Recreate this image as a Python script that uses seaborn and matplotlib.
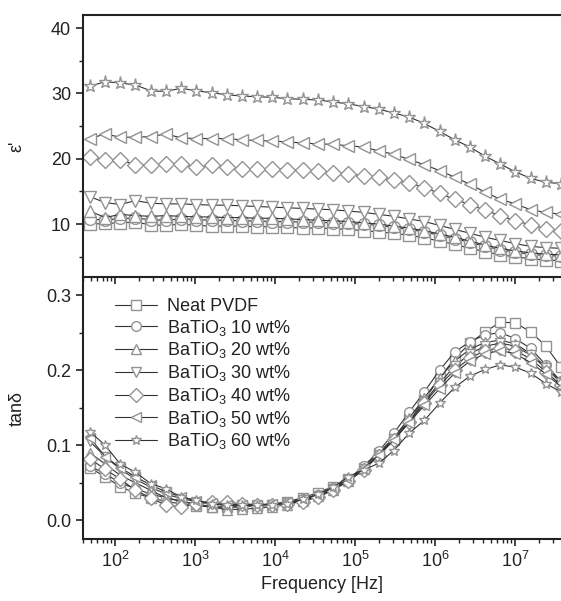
import numpy as np
import pandas as pd
import matplotlib
matplotlib.use("Agg")
import matplotlib.pyplot as plt
from matplotlib.ticker import LogLocator, MultipleLocator, NullFormatter, LogFormatterMathtext
import seaborn as sns

# ---------------- data ----------------
freq = [48.5, 75.2, 116, 180, 279, 433, 670, 1040, 1610, 2490, 3860, 5970,
        9250, 14300, 22200, 34400, 53200, 82400, 128000, 198000, 306000,
        474000, 735000, 1140000, 1760000, 2730000, 4230000, 6550000,
        10100000, 15700000, 24300000, 37700000]

labels = ["Neat PVDF", r"BaTiO$_3$ 10 wt%", r"BaTiO$_3$ 20 wt%", r"BaTiO$_3$ 30 wt%",
          r"BaTiO$_3$ 40 wt%", r"BaTiO$_3$ 50 wt%", r"BaTiO$_3$ 60 wt%"]

eps_neat = [10.0, 10.1, 10.2, 10.3, 9.9, 9.8, 10.0, 9.8, 9.7, 9.7, 9.7, 9.6, 9.6, 9.5, 9.4, 9.4,
            9.3, 9.2, 9.0, 8.8, 8.6, 8.3, 7.9, 7.4, 6.9, 6.3, 5.8, 5.3, 5.0, 4.7, 4.5, 4.4]
eps_10 = [10.8, 10.6, 10.9, 10.9, 10.7, 10.6, 10.8, 10.7, 10.6, 10.6, 10.5, 10.5, 10.4, 10.4, 10.3, 10.3,
          10.2, 10.1, 10.0, 9.8, 9.5, 9.2, 8.8, 8.3, 7.8, 7.2, 6.6, 6.1, 5.7, 5.4, 5.2, 5.1]
eps_20 = [12.0, 11.0, 11.5, 11.3, 11.2, 11.3, 11.2, 11.1, 11.1, 11.0, 11.0, 10.9, 10.9, 10.8, 10.7, 10.6,
          10.5, 10.4, 10.2, 10.0, 9.7, 9.4, 9.0, 8.5, 8.0, 7.4, 6.8, 6.3, 5.9, 5.6, 5.4, 5.3]
eps_30 = [14.2, 13.3, 13.0, 13.6, 13.2, 13.1, 13.1, 13.0, 12.9, 12.9, 12.8, 12.7, 12.6, 12.5, 12.4, 12.3,
          12.2, 12.0, 11.8, 11.5, 11.2, 10.8, 10.4, 9.8, 9.2, 8.6, 8.0, 7.5, 7.0, 6.6, 6.4, 6.3]
eps_40 = [20.2, 19.8, 19.8, 19.1, 19.0, 19.2, 19.2, 18.7, 19.0, 18.7, 18.5, 18.5, 18.5, 18.3, 18.3, 18.1,
          17.9, 17.7, 17.4, 17.2, 16.7, 16.3, 15.6, 14.7, 13.8, 13.0, 12.1, 11.3, 10.5, 9.9, 9.3, 9.0]
eps_50 = [23.1, 23.8, 23.3, 23.3, 23.4, 23.8, 23.2, 23.1, 23.1, 23.1, 22.9, 22.8, 22.7, 22.6, 22.4, 22.3,
          22.2, 22.0, 21.8, 21.2, 20.7, 19.9, 19.1, 18.2, 17.2, 16.1, 14.9, 13.8, 13.1, 12.2, 11.8, 11.5]
eps_60 = [31.1, 31.8, 31.6, 31.3, 30.4, 30.3, 30.8, 30.4, 30.1, 29.8, 29.6, 29.5, 29.4, 29.2, 29.1, 29.0,
          28.7, 28.4, 28.0, 27.6, 27.0, 26.4, 25.4, 24.2, 22.9, 21.8, 20.4, 19.2, 18.0, 17.0, 16.4, 16.2]

tan_neat = [0.070, 0.058, 0.045, 0.036, 0.030, 0.025, 0.022, 0.019, 0.018, 0.018, 0.018, 0.019, 0.021,
            0.025, 0.030, 0.037, 0.045, 0.055, 0.070, 0.090, 0.110, 0.135, 0.160, 0.190, 0.215, 0.236,
            0.251, 0.264, 0.263, 0.251, 0.232, 0.204]
tan_10 = [0.072, 0.062, 0.050, 0.042, 0.035, 0.030, 0.026, 0.020, 0.018, 0.017, 0.018, 0.019, 0.020,
          0.023, 0.028, 0.034, 0.043, 0.055, 0.072, 0.092, 0.116, 0.144, 0.171, 0.200, 0.224, 0.238,
          0.247, 0.250, 0.242, 0.229, 0.207, 0.185]
tan_20 = [0.090, 0.075, 0.060, 0.050, 0.040, 0.030, 0.025, 0.022, 0.018, 0.014, 0.015, 0.016, 0.018,
          0.021, 0.026, 0.032, 0.041, 0.053, 0.068, 0.088, 0.110, 0.136, 0.163, 0.190, 0.212, 0.228,
          0.237, 0.240, 0.235, 0.222, 0.205, 0.185]
tan_30 = [0.105, 0.085, 0.068, 0.055, 0.044, 0.035, 0.029, 0.025, 0.022, 0.020, 0.020, 0.020, 0.021,
          0.023, 0.027, 0.033, 0.042, 0.053, 0.068, 0.087, 0.108, 0.132, 0.158, 0.183, 0.205, 0.222,
          0.232, 0.236, 0.232, 0.220, 0.203, 0.183]
tan_40 = [0.082, 0.068, 0.055, 0.040, 0.030, 0.020, 0.018, 0.022, 0.024, 0.024, 0.022, 0.021, 0.021,
          0.022, 0.025, 0.031, 0.040, 0.052, 0.067, 0.086, 0.107, 0.131, 0.156, 0.180, 0.200, 0.216,
          0.226, 0.230, 0.226, 0.215, 0.198, 0.180]
tan_50 = [0.110, 0.085, 0.070, 0.058, 0.047, 0.038, 0.031, 0.026, 0.023, 0.021, 0.021, 0.021, 0.022,
          0.024, 0.028, 0.034, 0.043, 0.055, 0.069, 0.087, 0.107, 0.130, 0.153, 0.175, 0.196, 0.212,
          0.222, 0.226, 0.222, 0.210, 0.195, 0.178]
tan_60 = [0.118, 0.100, 0.075, 0.064, 0.049, 0.042, 0.031, 0.027, 0.022, 0.020, 0.020, 0.020, 0.021,
          0.022, 0.028, 0.035, 0.044, 0.058, 0.067, 0.076, 0.093, 0.116, 0.133, 0.156, 0.177, 0.192,
          0.201, 0.207, 0.204, 0.196, 0.182, 0.171]

eps_series = [eps_neat, eps_10, eps_20, eps_30, eps_40, eps_50, eps_60]
tan_series = [tan_neat, tan_10, tan_20, tan_30, tan_40, tan_50, tan_60]

# ---------------- style ----------------
sns.set_style("ticks")
plt.rcParams['font.family'] = ['Liberation Sans', 'DejaVu Sans']
plt.rcParams['mathtext.fontset'] = 'custom'
plt.rcParams['mathtext.rm'] = 'Liberation Sans'
plt.rcParams['mathtext.it'] = 'Liberation Sans'

FS = 13
markers = ['s', 'o', '^', 'v', 'D', '<', '*']
msizes = [8, 8.5, 9, 9, 8.5, 9, 9.5]
edge_col = '#939393'
line_col = '#333333'
ink = '#222222'

fig = plt.figure(figsize=(5.61, 6.01), dpi=100)
ax1 = fig.add_axes([0.148, 0.539, 0.852, 0.436])
ax2 = fig.add_axes([0.148, 0.103, 0.852, 0.436])

for ax, series in ((ax1, eps_series), (ax2, tan_series)):
    for i, vals in enumerate(series):
        df = pd.DataFrame({'f': freq, 'v': vals})
        sns.lineplot(data=df, x='f', y='v', ax=ax, color=line_col, lw=0.8,
                     marker=markers[i], markersize=msizes[i], markerfacecolor='white',
                     markeredgecolor=edge_col, markeredgewidth=1.0, label=labels[i],
                     legend=False)

for ax in (ax1, ax2):
    ax.set_xscale('log')
    ax.set_xlim(39.8, 3.76e7)
    ax.xaxis.set_major_locator(LogLocator(base=10, numticks=20))
    ax.xaxis.set_minor_locator(LogLocator(base=10, subs=np.arange(2, 10), numticks=100))
    ax.tick_params(axis='both', which='major', direction='out', length=5, width=1.2,
                   labelsize=FS, colors=ink)
    ax.tick_params(axis='both', which='minor', direction='out', length=3, width=1.0, colors=ink)
    ax.spines['right'].set_visible(False)
    for s in ('left', 'bottom', 'top'):
        ax.spines[s].set_linewidth(1.5)
        ax.spines[s].set_color(ink)
    ax.set_xlabel('')

ax1.set_ylim(1.9, 42)
ax1.yaxis.set_major_locator(MultipleLocator(10))
ax1.yaxis.set_minor_locator(MultipleLocator(5))
ax1.xaxis.set_major_formatter(NullFormatter())
ax1.xaxis.set_minor_formatter(NullFormatter())
ax1.set_ylabel("ε'", fontsize=FS, color=ink)
ax1.yaxis.set_label_coords(-0.12, 0.5)

ax2.set_ylim(-0.025, 0.324)
ax2.yaxis.set_major_locator(MultipleLocator(0.1))
ax2.yaxis.set_minor_locator(MultipleLocator(0.05))
ax2.yaxis.set_major_formatter(plt.FuncFormatter(lambda v, p: f"{v:.1f}"))
ax2.xaxis.set_major_formatter(LogFormatterMathtext())
ax2.spines['top'].set_visible(False)
ax2.set_ylabel("tanδ", fontsize=FS, color=ink)
ax2.yaxis.set_label_coords(-0.12, 0.5)
ax2.set_xlabel("Frequency [Hz]", fontsize=FS, labelpad=3.5, color=ink)

handles, labs = ax2.get_legend_handles_labels()
for h in handles:
    h.set_markersize(7)
leg = ax2.legend(handles, labs, loc='upper left', bbox_to_anchor=(0.067, 0.92), frameon=False,
                 fontsize=FS, handlelength=2.3, handletextpad=0.6, labelspacing=0.15,
                 borderaxespad=0, borderpad=0)
for t in leg.get_texts():
    t.set_color(ink)

ax1.set_zorder(3)
ax1.patch.set_alpha(0)

fig.savefig('out.png', dpi=100)
